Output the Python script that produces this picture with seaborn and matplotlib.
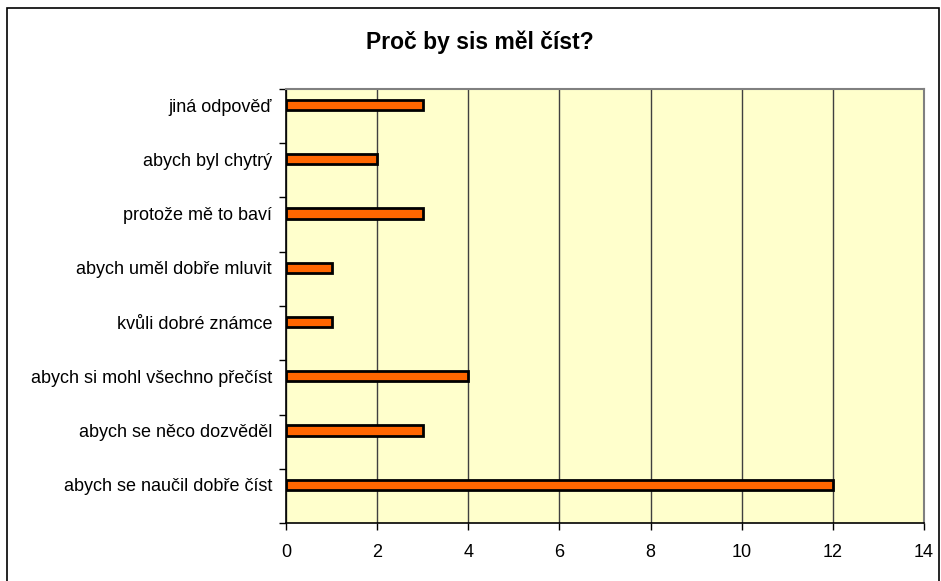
import matplotlib
matplotlib.use("Agg")
import matplotlib.pyplot as plt
import seaborn as sns
import pandas as pd
from matplotlib.patches import Rectangle
from matplotlib.ticker import FixedLocator

categories = [
    "jiná odpověď",
    "abych byl chytrý",
    "protože mě to baví",
    "abych uměl dobře mluvit",
    "kvůli dobré známce",
    "abych si mohl všechno přečíst",
    "abych se něco dozvěděl",
    "abych se naučil dobře číst",
]
values = [3, 2, 3, 1, 1, 4, 3, 12]
x_ticks = [0, 2, 4, 6, 8, 10, 12, 14]

df = pd.DataFrame({"reason": categories, "count": values})

sns.set_style("white")
plt.rcParams["font.family"] = ["Liberation Sans", "DejaVu Sans"]
plt.rcParams["text.color"] = "black"
plt.rcParams["xtick.color"] = "black"
plt.rcParams["ytick.color"] = "black"
plt.rcParams["axes.labelcolor"] = "black"

fig = plt.figure(figsize=(9.41, 5.81), dpi=100)
ax = fig.add_axes([286 / 941, 1 - 523 / 581, 638 / 941, 434 / 581])

sns.barplot(data=df, x="count", y="reason", orient="h", order=categories,
            color="#FF6600", saturation=1, width=0.19,
            edgecolor="black", linewidth=2.0, ax=ax, zorder=3)

ax.set_facecolor("#FFFFCC")
ax.set_xlim(0, 14)
ax.set_xticks(x_ticks)
ax.set_xticklabels([str(t) for t in x_ticks])
off = 0.295
ax.set_ylim(len(categories) - off, -off)
ax.yaxis.set_minor_locator(FixedLocator([k - off for k in range(len(categories) + 1)]))
ax.tick_params(axis="y", which="major", length=0, pad=10, labelsize=13, labelcolor="black")
ax.tick_params(axis="y", which="minor", length=5, width=1, color="black", left=True)
ax.tick_params(axis="x", which="major", length=5, width=1, color="black",
               bottom=True, pad=10, labelsize=13, labelcolor="black")

ax.grid(axis="x", color="#404040", linewidth=1, zorder=1)
ax.grid(axis="y", visible=False)
ax.set_axisbelow(True)

ax.set_xlabel("")
ax.set_ylabel("")

for side in ["top", "right"]:
    ax.spines[side].set_visible(True)
    ax.spines[side].set_color("#808080")
    ax.spines[side].set_linewidth(1.5)
for side in ["left", "bottom"]:
    ax.spines[side].set_color("black")
    ax.spines[side].set_linewidth(1.2)

fig.text(480 / 941, 1 - 42 / 581, "Proč by sis měl číst?", ha="center", va="center",
         fontsize=16.5, fontweight="bold", color="black")

fig.patches.append(Rectangle((7 / 941, -0.05), (939 - 7) / 941, 1.05 - 8 / 581,
                             transform=fig.transFigure, fill=False,
                             edgecolor="black", linewidth=1.2))

fig.savefig("out.png", dpi=100)
